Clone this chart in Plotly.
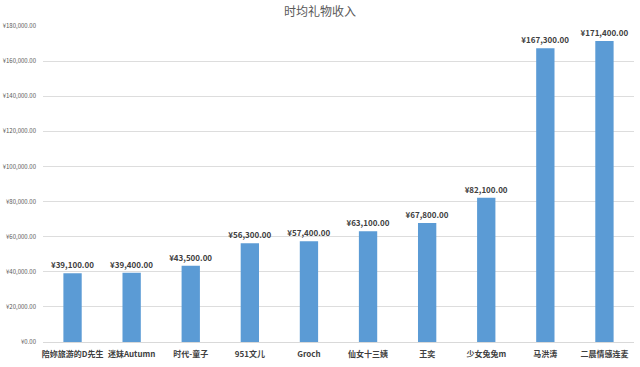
import plotly.graph_objects as go

categories = ["陪妳旅游的D先生", "迷妹Autumn", "时代-童子", "951文儿", "Groch",
              "仙女十三姨", "王奕", "少女兔兔m", "马洪涛", "二晨情感连麦"]
values = [39100, 39400, 43500, 56300, 57400, 63100, 67800, 82100, 167300, 171400]
y_ticks = list(range(0, 180001, 20000))
title_text = "时均礼物收入"

font_cjk = "Noto Sans CJK SC, Noto Sans, sans-serif"

fig = go.Figure(go.Bar(
    x=categories, y=values,
    marker=dict(color="#5B9BD5", line=dict(width=0)),
    text=["¥{:,.2f}".format(v) for v in values],
    textposition="outside",
    constraintext="none",
    textfont=dict(family=font_cjk, size=8, color="#404040", weight="bold"),
    cliponaxis=False,
))

fig.update_layout(
    width=640, height=367,
    margin=dict(l=43, r=6, t=26, b=25),
    paper_bgcolor="white", plot_bgcolor="white",
    bargap=0.69,
    showlegend=False,
    title=dict(text=title_text, x=0.5, xanchor="center", yref="container",
               y=1 - 12 / 367, yanchor="middle",
               font=dict(family=font_cjk, size=12, color="#595959")),
    xaxis=dict(tickfont=dict(family=font_cjk, size=8, color="#404040", weight="bold"),
               showgrid=False, showline=True, linecolor="#D9D9D9", ticks="",
               ticklabelstandoff=4, automargin=False),
    yaxis=dict(range=[0, 180000], tickvals=y_ticks,
               ticktext=["¥{:,.2f}".format(v) for v in y_ticks],
               tickfont=dict(family=font_cjk, size=6, color="#595959"),
               showgrid=True, gridcolor="#DDDDDD", gridwidth=1, zeroline=False,
               ticks="", ticklabelstandoff=6, automargin=False),
)

fig.write_html("out.html", config={"displayModeBar": False},
               post_script="document.body.style.margin='0';document.body.style.overflow='hidden';")
